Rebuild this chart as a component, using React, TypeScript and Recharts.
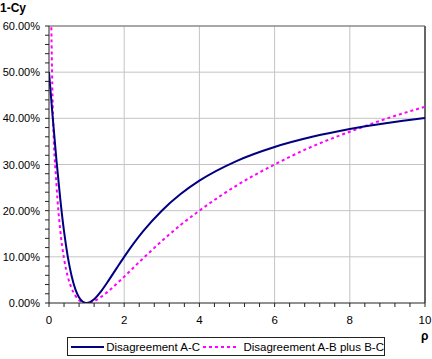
import { LineChart, Line, XAxis, YAxis, ReferenceLine } from "recharts";

const rho = [0, 0.1, 0.2, 0.3, 0.4, 0.5, 0.6, 0.7, 0.8, 0.9, 1, 1.2, 1.4, 1.6, 1.8, 2, 2.5, 3, 3.5, 4, 5, 6, 7, 8, 9, 10];
const disagreementAC = [50, 40.1, 30.8, 22.5, 15.5, 10, 5.9, 3.0, 1.2, 0.28, 0, 0.82, 2.7, 5.06, 7.55, 10, 15.5, 20, 23.6, 26.5, 30.8, 33.8, 36, 37.7, 39, 40.1];
const disagreementABplusBC = [100, 42.5, 25.5, 15.7, 9.6, 5.7, 3.2, 1.6, 0.6, 0.14, 0, 0.41, 1.4, 2.7, 4.17, 5.7, 9.65, 13.4, 16.9, 20, 25.5, 30, 33.9, 37.1, 40, 42.5];

const xTicks = [0, 0.4, 0.8, 1.2, 1.6, 2, 2.4, 2.8, 3.2, 3.6, 4, 4.4, 4.8, 5.2, 5.6, 6, 6.4, 6.8, 7.2, 7.6, 8, 8.4, 8.8, 9.2, 9.6, 10];
const yTicks = [0, 2, 4, 6, 8, 10, 12, 14, 16, 18, 20, 22, 24, 26, 28, 30, 32, 34, 36, 38, 40, 42, 44, 46, 48, 50, 52, 54, 56, 58, 60];
const xGrid = [2, 4, 6, 8];
const yGrid = [10, 20, 30, 40, 50];

const data = rho.map((r, i) => ({ rho: r, ac: disagreementAC[i], abbc: disagreementABplusBC[i] }));

const font = "'Liberation Sans', Arial, sans-serif";

const isMajor = (v: number, step: number) => Math.abs(v / step - Math.round(v / step)) < 1e-6;

const XTick = ({ x, y, payload }: any) =>
  isMajor(payload.value, 2) ? (
    <text x={x} y={y} dy={13} textAnchor="middle" fontSize={11.5} fontFamily={font} fill="#000">
      {Math.round(payload.value)}
    </text>
  ) : null;

const YTick = ({ x, y, payload }: any) =>
  isMajor(payload.value, 10) ? (
    <text x={x} y={y} dy={4} textAnchor="end" fontSize={11} fontFamily={font} fill="#000">
      {payload.value.toFixed(2)}%
    </text>
  ) : null;

export default function App() {
  return (
    <div style={{ position: "absolute", left: 0, top: 0, width: 432, height: 359, background: "#fff", fontFamily: font }}>
      <LineChart width={432} height={359} data={data} margin={{ top: 26, right: 7, left: 0, bottom: 0 }}>
        <XAxis
          dataKey="rho"
          type="number"
          domain={[0, 10]}
          ticks={xTicks}
          allowDataOverflow
          height={56}
          tick={XTick}
          tickSize={4}
          tickMargin={4}
          stroke="#222"
          interval={0}
        />
        <YAxis
          type="number"
          domain={[0, 60]}
          ticks={yTicks}
          allowDataOverflow
          width={49}
          tick={YTick}
          tickSize={4}
          tickMargin={5}
          stroke="#222"
          interval={0}
        />
        {xGrid.map((v) => (
          <ReferenceLine key={"x" + v} x={v} stroke="#c4c4c4" />
        ))}
        {yGrid.map((v) => (
          <ReferenceLine key={"y" + v} y={v} stroke="#c4c4c4" />
        ))}
        <ReferenceLine y={60} stroke="#8a8a8a" strokeWidth={1.5} />
        <ReferenceLine x={10} stroke="#666" strokeWidth={2} />
        <Line
          dataKey="abbc"
          type="monotone"
          stroke="#ff00ff"
          strokeWidth={2}
          strokeDasharray="3 3"
          dot={false}
          isAnimationActive={false}
        />
        <Line dataKey="ac" type="monotone" stroke="#000080" strokeWidth={2} dot={false} isAnimationActive={false} />
      </LineChart>
      <div style={{ position: "absolute", left: 0, top: 1, fontSize: 12, fontWeight: "bold" }}>1-Cy</div>
      <div style={{ position: "absolute", left: 421, top: 329, fontSize: 12, fontWeight: "bold" }}>ρ</div>
      <div
        style={{
          position: "absolute",
          left: 67,
          top: 337,
          width: 318,
          height: 19,
          border: "1px solid #222",
          boxSizing: "border-box",
          display: "flex",
          alignItems: "center",
          fontSize: 11.5,
          whiteSpace: "nowrap",
        }}
      >
        <svg width={42} height={10} style={{ marginLeft: 3 }}>
          <line x1={0} y1={5} x2={40} y2={5} stroke="#000080" strokeWidth={2} />
        </svg>
        <span style={{ marginLeft: 2 }}>Disagreement A-C</span>
        <svg width={46} height={10} style={{ marginLeft: 3 }}>
          <line x1={0} y1={5} x2={44} y2={5} stroke="#ff00ff" strokeWidth={2} strokeDasharray="3 3" />
        </svg>
        <span style={{ marginLeft: 4 }}>Disagreement A-B plus B-C</span>
      </div>
    </div>
  );
}
